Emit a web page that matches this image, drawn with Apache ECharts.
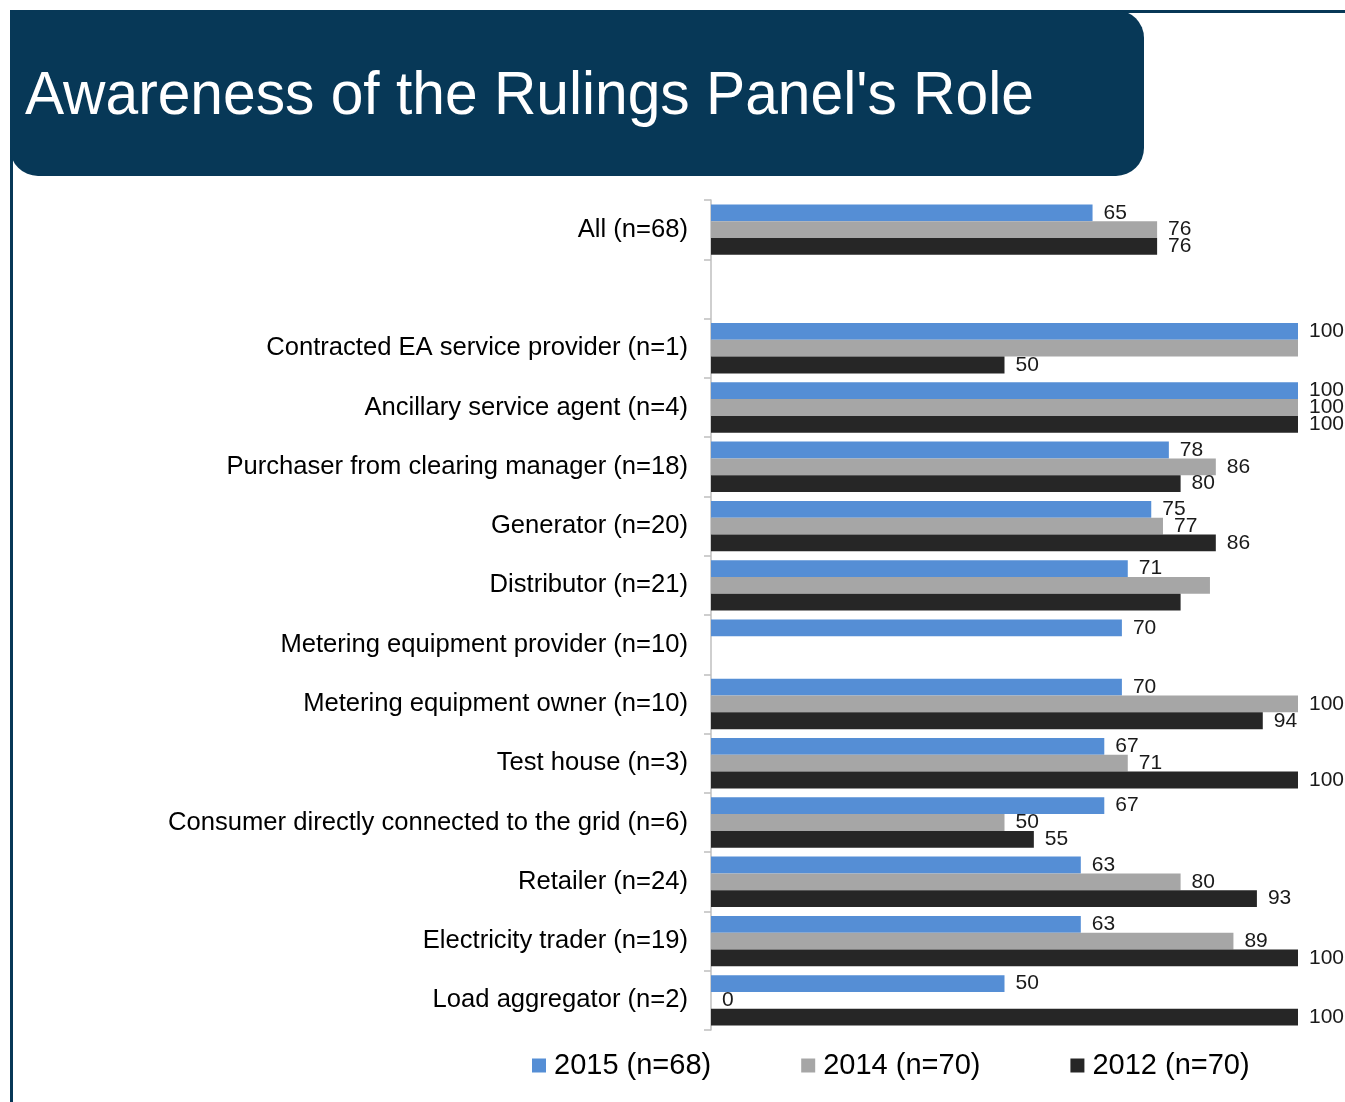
<!DOCTYPE html>
<html>
<head>
<meta charset="utf-8">
<script src="https://cdn.jsdelivr.net/npm/echarts@6/dist/echarts.min.js"></script>
<style>
  html, body { margin: 0; padding: 0; background: #fff; }
  #chart { width: 1345px; height: 1102px; }
</style>
</head>
<body>
<div id="chart"></div>
<script>
// Respondent groups, top to bottom (empty string = spacer row after "All")
const categories = [
  'All (n=68)',
  '',
  'Contracted EA service provider (n=1)',
  'Ancillary service agent (n=4)',
  'Purchaser from clearing manager (n=18)',
  'Generator (n=20)',
  'Distributor (n=21)',
  'Metering equipment provider (n=10)',
  'Metering equipment owner (n=10)',
  'Test house (n=3)',
  'Consumer directly connected to the grid (n=6)',
  'Retailer (n=24)',
  'Electricity trader (n=19)',
  'Load aggregator (n=2)'
];

const seriesNames = ['2015 (n=68)', '2014 (n=70)', '2012 (n=70)'];

// Percent aware, per survey year
const values2015 = [65, null, 100, 100, 78, 75, 71, 70, 70, 67, 67, 63, 63, 50];
const values2014 = [76, null, 100, 100, 86, 77, 85, null, 100, 71, 50, 80, 89, 0];
const values2012 = [76, null, 50, 100, 80, 86, 80, null, 94, 100, 55, 93, 100, 100];

// Bars drawn without a value label: [series index, category index]
const unlabelled = [[1, 2], [1, 6], [2, 6]];

const colors = ['#558ED5', '#A6A6A6', '#262626'];
const navy = '#073857';
const font = '"Liberation Sans", Arial, Helvetica, sans-serif';

const chart = echarts.init(document.getElementById('chart'), null, { renderer: 'canvas' });

function buildData(vals, si) {
  return vals.map((v, ci) => {
    const hide = unlabelled.some(p => p[0] === si && p[1] === ci);
    return hide ? { value: v, label: { show: false } } : v;
  });
}

const allValues = [values2015, values2014, values2012];

chart.setOption({
  animation: false,
  backgroundColor: '#ffffff',
  textStyle: { fontFamily: font },
  graphic: [
    // left page rule
    { type: 'rect', shape: { x: 10, y: 10, width: 3, height: 1092 }, style: { fill: navy }, z: 10 },
    // top page rule
    { type: 'rect', shape: { x: 1100, y: 10, width: 245, height: 3 }, style: { fill: navy }, z: 10 },
    // title banner
    { type: 'rect', shape: { x: 10, y: 10, width: 1134, height: 166, r: [0, 28, 28, 28] }, style: { fill: navy }, z: 10 },
    {
      type: 'text', x: 25, y: 97, scaleX: 0.947, z: 11,
      style: { text: "Awareness of the Rulings Panel's Role", fill: '#ffffff', font: '62px ' + font, textVerticalAlign: 'middle' }
    }
  ],
  legend: {
    data: seriesNames,
    bottom: 17,
    left: 527,
    itemWidth: 14,
    itemHeight: 14,
    itemGap: 90,
    icon: 'rect',
    textStyle: { fontSize: 29, color: '#000', fontFamily: font, padding: [0, 0, 0, 3] }
  },
  grid: { left: 711, right: 47, top: 200, bottom: 72, containLabel: false },
  xAxis: {
    type: 'value', min: 0, max: 100, show: false
  },
  yAxis: {
    type: 'category',
    data: categories,
    inverse: true,
    axisLine: { show: true, lineStyle: { color: '#BFBFBF', width: 1.5 } },
    axisTick: { show: true, length: 7, lineStyle: { color: '#BFBFBF', width: 1.5 } },
    axisLabel: { fontSize: 25.6, color: '#000', margin: 23, fontFamily: font }
  },
  series: seriesNames.map((name, si) => ({
    name,
    type: 'bar',
    data: buildData(allValues[si], si),
    barGap: '0%',
    barCategoryGap: '15%',
    itemStyle: { color: colors[si] },
    label: {
      show: true, position: 'right', distance: 11,
      fontSize: 21, color: '#1a1a1a', fontFamily: font
    }
  }))
});
</script>
</body>
</html>
